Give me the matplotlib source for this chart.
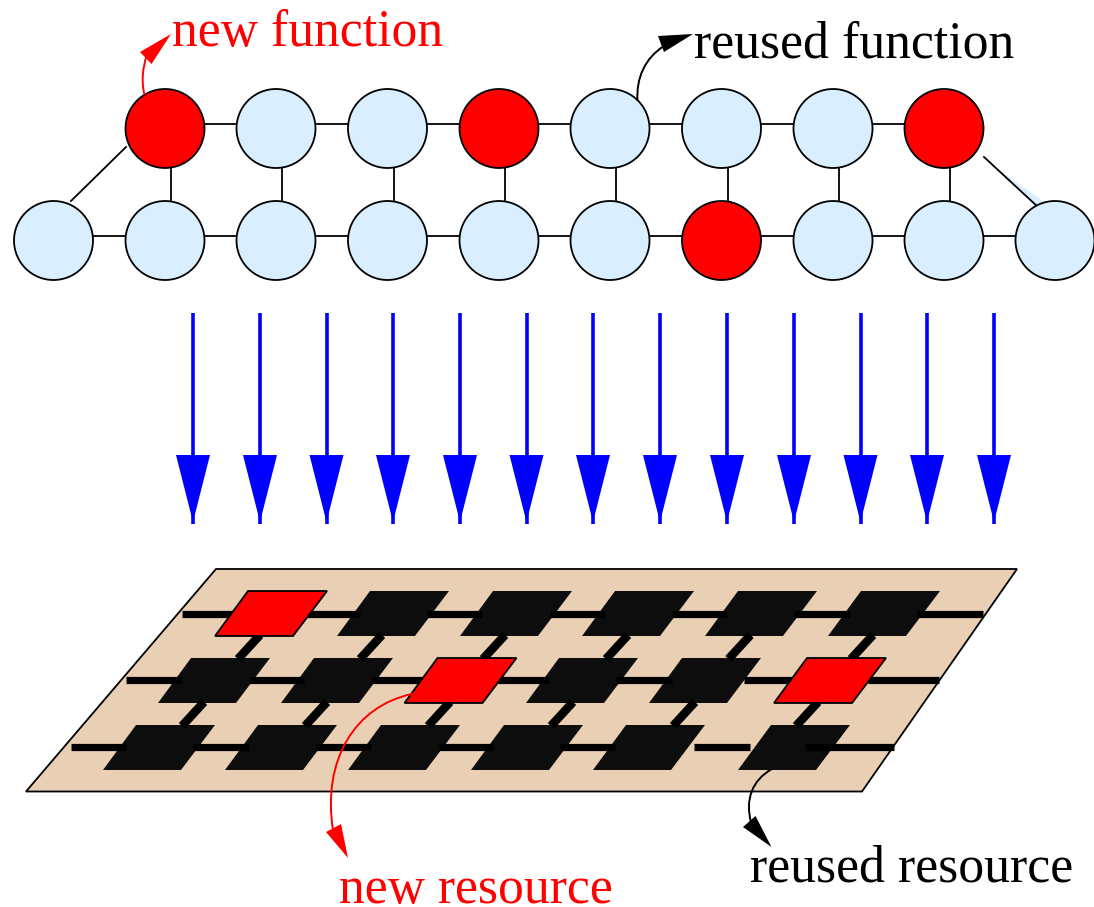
import matplotlib
matplotlib.use("Agg")
import matplotlib.pyplot as plt
from matplotlib.patches import Circle, Polygon, PathPatch
from matplotlib.path import Path

plt.rcParams['font.family'] = ['Liberation Serif', 'DejaVu Serif']

W, H = 1094, 907
LIGHT = "#d9eefe"
RED = "#ff0000"
BOARD = "#e9cfb3"
TILE = "#0d0d0d"

# task graph, pixel positions
top_x = [165, 276, 387.5, 499, 610, 721.5, 833, 944]
top_red = [True, False, False, True, False, False, False, True]
bottom_x = [53.5, 165, 276, 387.5, 499, 610, 721.5, 833, 944, 1055]
bottom_red = [False, False, False, False, False, False, True, False, False, False]
top_y = 128.5
bottom_y = 240.5
radius = 39.5

# mapping arrows
arrow_x = [193, 260, 326.5, 393, 460, 526.5, 593, 660, 727, 794, 860.5, 927, 994]

# board
board = [(216, 569), (1017, 569), (862, 791.5), (26, 791.5)]

# tiles: left x of the bottom edge, bottom y of each row
row_bottom = [636, 703, 770]
row1_x = [215, 337, 460, 582, 705, 828]
row2_x = [158, 281, 404.5, 526, 649, 774]
row3_x = [103, 225, 348, 471, 593, 738]
row1_red = [True, False, False, False, False, False]
row2_red = [False, False, True, False, False, True]
row3_red = [False, False, False, False, False, False]

# thick wires
row1_wires = [(182, 240), (305, 360), (427, 482), (550, 605), (672, 727), (794, 850), (917, 983)]
row2_wires = [(126, 182), (249, 304), (371, 430), (498, 549), (616, 672), (744, 800), (868, 939)]
row3_wires = [(70.5, 126), (193, 249), (316, 371), (438.5, 493), (560, 615), (694, 750), (805, 894)]
wire_y = [613.5, 680, 747]

# (start x, y0, y1) of short slanted links between tile rows
link1_x = [258, 380, 503, 626, 748.5, 871]
link2_x = [202, 325, 448, 571, 693, 816]

# curved callouts: cubic control points, then arrow head tip and base points
new_fn_curve = [(144.5, 95), (141, 80), (143, 68), (146.5, 56)]
new_fn_head = [(171, 34), (140, 52), (151.5, 64)]
reused_fn_curve = [(637.5, 101), (636, 78), (645, 58), (664, 46)]
reused_fn_head = [(693, 34), (658, 36), (664, 52)]
new_res_curve = [(412, 694), (355, 706), (322, 760), (333, 830)]
new_res_head = [(348, 858), (326, 832), (341, 824)]
reused_res_curve = [(772, 769), (752, 780), (745, 800), (751, 822)]
reused_res_head = [(771.5, 847), (743, 827), (755.5, 816)]


def curve(ax, pts, head, color, lw):
    codes = [Path.MOVETO, Path.CURVE4, Path.CURVE4, Path.CURVE4]
    ax.add_patch(PathPatch(Path(pts, codes), fill=False, edgecolor=color, lw=lw, zorder=6))
    ax.add_patch(Polygon(head, closed=True, facecolor=color, edgecolor="none", zorder=6))


fig = plt.figure(figsize=(W / 100, H / 100), dpi=100)
ax = fig.add_axes([0, 0, 1, 1])
ax.set_xlim(0, W)
ax.set_ylim(H, 0)
ax.axis("off")

# graph edges, slightly off the circle centres like in the drawing
ax.plot([top_x[0], top_x[-1]], [top_y - 5, top_y - 5], color="k", lw=1.3, zorder=1)
ax.plot([bottom_x[0], bottom_x[-1]], [bottom_y - 5, bottom_y - 5], color="k", lw=1.3, zorder=1)
for x in top_x:
    ax.plot([x + 6, x + 6], [top_y, bottom_y], color="k", lw=1.3, zorder=1)
ax.plot([126, 71], [147, 201], color="k", lw=1.3, zorder=1)
ax.add_patch(Polygon([(1000, 171), (1046, 203), (1036, 207)], facecolor=LIGHT, edgecolor="none", zorder=1))
ax.plot([984, 1038], [157, 207], color="k", lw=1.3, zorder=1)

for xs, reds, y in [(top_x, top_red, top_y), (bottom_x, bottom_red, bottom_y)]:
    for x, red in zip(xs, reds):
        ax.add_patch(Circle((x, y), radius, facecolor=RED if red else LIGHT,
                            edgecolor="k", lw=1.3, zorder=2))

for x in arrow_x:
    ax.plot([x, x], [313, 524], color="#0000ff", lw=2.6, solid_capstyle="butt", zorder=2)
    ax.add_patch(Polygon([(x - 17, 455), (x + 17, 455), (x, 522)],
                         facecolor="#0000ff", edgecolor="none", zorder=2))

ax.add_patch(Polygon(board, facecolor=BOARD, edgecolor="k", lw=1.3, zorder=1))

rows = [(row1_x, row1_red), (row2_x, row2_red), (row3_x, row3_red)]
for (xs, reds), y in zip(rows, row_bottom):
    for x, red in zip(xs, reds):
        if not red:
            ax.add_patch(Polygon([(x, y), (x + 78, y), (x + 112, y - 45), (x + 33, y - 45)],
                                 facecolor=TILE, edgecolor="none", zorder=2))

for wires, y in zip([row1_wires, row2_wires, row3_wires], wire_y):
    for x0, x1 in wires:
        ax.plot([x0, x1], [y, y], color="k", lw=5.2, solid_capstyle="butt", zorder=3)

for xs, y0 in [(link1_x, 635), (link2_x, 702)]:
    for x in xs:
        ax.plot([x + 2, x - 20], [y0, y0 + 24], color="k", lw=6.2, solid_capstyle="butt", zorder=3)

for (xs, reds), y in zip(rows, row_bottom):
    for x, red in zip(xs, reds):
        if red:
            ax.add_patch(Polygon([(x, y), (x + 78, y), (x + 112, y - 45), (x + 33, y - 45)],
                                 facecolor=RED, edgecolor="k", lw=1.3, zorder=4))

curve(ax, new_fn_curve, new_fn_head, RED, 1.4)
curve(ax, reused_fn_curve, reused_fn_head, "k", 1.4)
curve(ax, new_res_curve, new_res_head, RED, 1.4)
curve(ax, reused_res_curve, reused_res_head, "k", 1.4)

ax.text(172, 46, "new function", color=RED, fontsize=37.2, va="baseline", ha="left")
ax.text(694, 57, "reused function", color="k", fontsize=37.3, va="baseline", ha="left")
ax.text(339, 903, "new resource", color=RED, fontsize=37.2, va="baseline", ha="left")
ax.text(750, 881, "reused resource", color="k", fontsize=37.3, va="baseline", ha="left")

fig.savefig("out.png", dpi=100)
